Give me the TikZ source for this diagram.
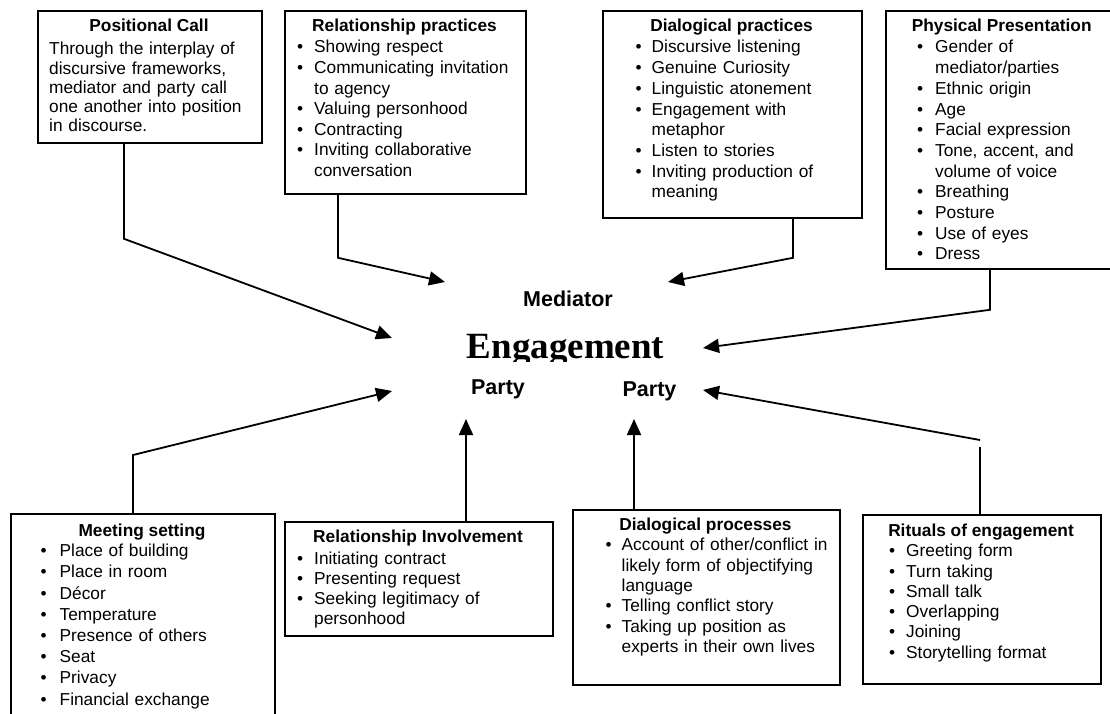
\documentclass[tikz,border=0pt]{standalone}
\usepackage{fontspec}
\setmainfont{Liberation Sans}
\newfontfamily\tnr{Liberation Serif}
\usetikzlibrary{arrows.meta}
\newlength\bulind
\newcommand\itm[1]{\noindent\hangindent=\bulind\hangafter=1\makebox[\bulind][l]{\textbullet}#1\par}
\begin{document}
\begin{tikzpicture}[x=1pt,y=-1pt,
  box/.style={draw, line width=1.8pt, inner sep=0pt, anchor=north west},
  conn/.style={line width=1.8pt, -{Triangle[length=16pt,width=14pt]}},
  seg/.style={line width=1.8pt},
  ttl/.style={font=\bfseries\fontsize{17.3}{20}\selectfont, inner sep=0pt, anchor=base},
  lst/.style={font=\fontsize{17.3}{#1}\selectfont, inner sep=0pt, anchor=base west, text width=400pt, align=left},
  ctr/.style={font=\bfseries\fontsize{21.5}{24}\selectfont, inner sep=0pt, anchor=base}]
\clip (0,0) rectangle (1110,714);
% ---------- top boxes
\node[box, minimum width=224pt, minimum height=132pt] (pc) at (37,10) {};
\node[ttl] (pct) at (149,32) {Positional Call};
\node[lst=19.2] (pcb) at (49,55) {Through the interplay of\newline discursive frameworks,\newline mediator and party call\newline one another into position\newline in discourse.\par};

\node[box, minimum width=241pt, minimum height=183pt] (rp) at (284,10) {};
\node[ttl] (rpt) at (404.5,32) {Relationship practices};
\node[lst=20.6] (rpl) at (297,53) {\bulind=17pt\itm{Showing respect}\itm{Communicating invitation\newline to agency}\itm{Valuing personhood}\itm{Contracting}\itm{Inviting collaborative\newline conversation}};

\node[box, minimum width=259pt, minimum height=207pt] (dp) at (602,10) {};
\node[ttl] (dpt) at (731.5,32) {Dialogical practices};
\node[lst=20.7] (dpl) at (635.5,53) {\bulind=16pt\itm{Discursive listening}\itm{Genuine Curiosity}\itm{Linguistic atonement}\itm{Engagement with\newline metaphor}\itm{Listen to stories}\itm{Inviting production of\newline meaning}};

\node[box, minimum width=233pt, minimum height=258pt] (php) at (885,10) {};
\node[ttl] (phpt) at (1001.7,32) {Physical Presentation};
\node[lst=20.7] (phpl) at (917,53) {\bulind=18pt\itm{Gender of\newline mediator/parties}\itm{Ethnic origin}\itm{Age}\itm{Facial expression}\itm{Tone, accent, and\newline volume of voice}\itm{Breathing}\itm{Posture}\itm{Use of eyes}\itm{Dress}};

% ---------- bottom boxes
\node[box, minimum width=264pt, minimum height=203pt] (ms) at (10,513) {};
\node[ttl] (mst) at (142,536.7) {Meeting setting};
\node[lst=21.2] (msl) at (40.5,556.7) {\bulind=19pt\itm{Place of building}\itm{Place in room}\itm{Décor}\itm{Temperature}\itm{Presence of others}\itm{Seat}\itm{Privacy}\itm{Financial exchange}};

\node[box, minimum width=268pt, minimum height=114pt] (ri) at (284,521) {};
\node[ttl] (rit0) at (418,542.7) {Relationship Involvement};
\node[lst=20] (ril) at (297,564) {\bulind=17pt\itm{Initiating contract}\itm{Presenting request}\itm{Seeking legitimacy of\newline personhood}};

\node[box, minimum width=267pt, minimum height=175pt] (dpr) at (572,509) {};
\node[ttl] (dprt) at (705.5,530) {Dialogical processes};
\node[lst=20.4] (dprl) at (605.5,550.7) {\bulind=16pt\itm{Account of other/conflict in\newline likely form of objectifying\newline language}\itm{Telling conflict story}\itm{Taking up position as\newline experts in their own lives}};

\node[box, minimum width=238pt, minimum height=169pt] (rit) at (862,514) {};
\node[ttl] (ritt) at (981,536.7) {Rituals of engagement};
\node[lst=20.3] (ritl) at (889,556.7) {\bulind=17pt\itm{Greeting form}\itm{Turn taking}\itm{Small talk}\itm{Overlapping}\itm{Joining}\itm{Storytelling format}};

% ---------- centre
\node[ctr] (med) at (568,306.7) {Mediator};
\begin{scope}
\clip (380,300) rectangle (760,361);
\node[font=\tnr\bfseries\fontsize{37}{40}\selectfont, inner sep=0pt, anchor=base] (eng) at (565.5,358.3) {Engagement};
\end{scope}
\node[ctr] (p1) at (498,394) {Party};
\node[ctr] (p2) at (649.5,396) {Party};

% ---------- connectors
\coordinate (tPC) at (392,338);
\coordinate (tRP) at (445,282);
\coordinate (tDP) at (668,282);
\coordinate (tPhP) at (703,348);
\coordinate (tMS) at (392,391);
\coordinate (tRI) at (466,419);
\coordinate (tDPr) at (634,419);
\coordinate (tRit) at (703,390);
\coordinate (bRit) at (980,447);
\coordinate (sRit) at (980,440);

\draw[conn] ([xshift=87pt]pc.south west) -- ++(0,95) -- (tPC);
\draw[conn] ([xshift=54pt]rp.south west) -- ++(0,63) -- (tRP);
\draw[conn] ([xshift=191pt]dp.south west) -- ++(0,39) -- (tDP);
\draw[conn] ([xshift=105pt]php.south west) -- ++(0,40) -- (tPhP);
\draw[conn] ([xshift=123pt]ms.north west) -- ++(0,-58) -- (tMS);
\draw[conn] ([xshift=182pt]ri.north west) -- (tRI);
\draw[conn] ([xshift=62pt]dpr.north west) -- (tDPr);
\draw[seg] ([xshift=118pt]rit.north west) -- (bRit);
\draw[conn] (sRit) -- (tRit);
\end{tikzpicture}
\end{document}
